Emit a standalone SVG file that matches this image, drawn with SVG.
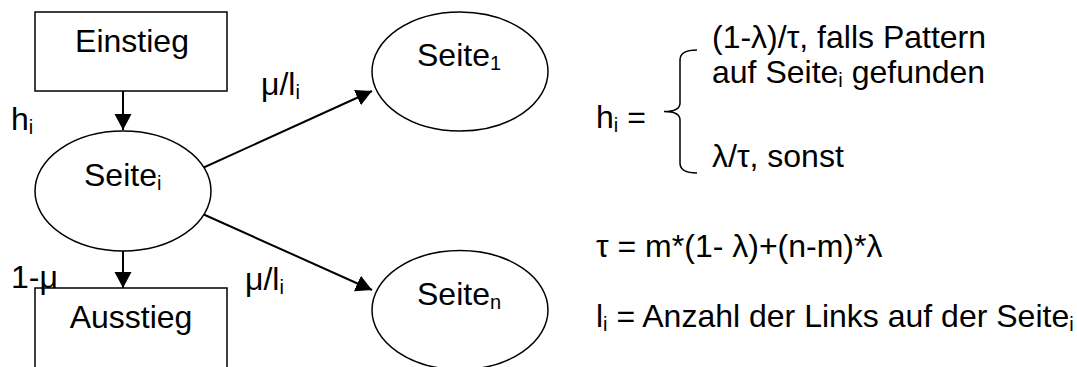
<svg xmlns="http://www.w3.org/2000/svg" width="1077" height="367" viewBox="0 0 1077 367">
<defs>
<style>
.t{font-family:"Liberation Sans",Arial,sans-serif;font-size:32px;fill:#000}
.s{font-size:20px}
.box{fill:#fff;stroke:#000;stroke-width:1.5}
.conn{stroke:#000;stroke-width:2;fill:none}
</style>
<marker id="ah" markerUnits="userSpaceOnUse" markerWidth="17" markerHeight="18" refX="16" refY="8.5" orient="auto">
<path d="M0,0 L16,8.5 L0,17 Z" fill="#000"/>
</marker>
</defs>
<rect width="1077" height="367" fill="#fff"/>
<g id="connectors">
<line class="conn" x1="123" y1="91" x2="123" y2="130" marker-end="url(#ah)"/>
<line class="conn" x1="196" y1="171" x2="372" y2="91" marker-end="url(#ah)"/>
<line class="conn" x1="196" y1="211" x2="372" y2="290" marker-end="url(#ah)"/>
<line class="conn" x1="123" y1="251" x2="123" y2="288" marker-end="url(#ah)"/>
</g>
<g id="einstieg">
<rect class="box" x="35" y="12" width="192" height="79"/>
<text class="t" x="132" y="52" text-anchor="middle">Einstieg</text>
</g>
<g id="seite_i">
<ellipse class="box" cx="123" cy="191" rx="88" ry="60"/>
<text class="t" x="84" y="186">Seite<tspan class="s" dy="4">i</tspan></text>
</g>
<g id="seite_1">
<ellipse class="box" cx="460" cy="71.5" rx="88" ry="59.5"/>
<text class="t" x="417" y="66">Seite<tspan class="s" dy="4">1</tspan></text>
</g>
<g id="seite_n">
<ellipse class="box" cx="460" cy="310" rx="88" ry="59.5"/>
<text class="t" x="417" y="305">Seite<tspan class="s" dy="4">n</tspan></text>
</g>
<g id="ausstieg">
<rect class="box" x="35" y="288" width="192" height="100"/>
<text class="t" x="131" y="328" text-anchor="middle">Ausstieg</text>
</g>
<g id="labels">
<text class="t" x="11" y="130">h<tspan class="s" dy="4">i</tspan></text>
<text class="t" x="261" y="95">μ/l<tspan class="s" dy="4">i</tspan></text>
<text class="t" x="11" y="288">1-μ</text>
<text class="t" x="245" y="290">μ/l<tspan class="s" dy="4">i</tspan></text>
</g>
<g id="formulas">
<text class="t" x="596" y="128">h<tspan class="s" dy="4">i</tspan><tspan dy="-4"> =</tspan></text>
<path d="M697,50 Q680,50 680,60 L680,103 Q680,111.5 664,111.5 Q680,111.5 680,120 L680,163 Q680,173 697,173" fill="none" stroke="#000" stroke-width="1.5"/>
<text class="t" x="712" y="48">(1-λ)/τ, falls Pattern</text>
<text class="t" x="712" y="83">auf Seite<tspan class="s" dy="4">i</tspan><tspan dy="-4"> gefunden</tspan></text>
<text class="t" x="712" y="167">λ/τ, sonst</text>
<text class="t" x="596" y="257">τ = m*(1- λ)+(n-m)*λ</text>
<text class="t" x="596" y="327">l<tspan class="s" dy="4">i</tspan><tspan dy="-4"> = Anzahl der Links auf der Seite</tspan><tspan class="s" dy="4">i</tspan></text>
</g>
</svg>
